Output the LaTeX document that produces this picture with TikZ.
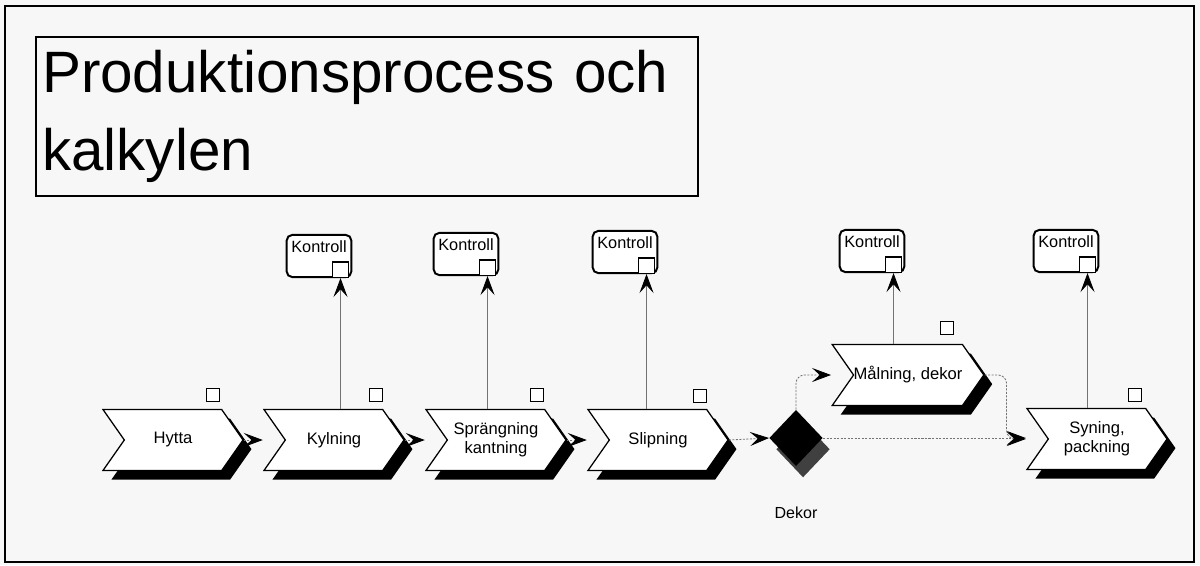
\documentclass[tikz,border=0pt]{standalone}
\usepackage{fontspec}
\setmainfont{Liberation Sans}
\usetikzlibrary{arrows.meta,positioning,shapes.symbols,shapes.geometric,shadows}

\begin{document}
\begin{tikzpicture}[x=0.025cm,y=-0.025cm,
        >={Stealth[length=13.5pt,width=10pt,inset=5.5pt,color=black]},
        chevron/.style={signal,signal to=east,signal from=west,signal pointer angle=110,
            draw=black,line width=0.9pt,fill=white,minimum width=99.6pt,minimum height=43.4pt,
            inner sep=0pt,align=center,font=\fontsize{11.8}{13.5}\selectfont,
            drop shadow={shadow xshift=6pt,shadow yshift=-6.5pt,fill=black,opacity=1}},
        beslut/.style={diamond,fill=black,minimum width=38pt,minimum height=40pt,inner sep=0pt,
            drop shadow={shadow xshift=5pt,shadow yshift=-8pt,fill=black!75,opacity=1}},
        kontroll/.style={draw,line width=1.4pt,rounded corners=4pt,fill=white,
            minimum width=46pt,minimum height=30pt,text depth=14pt,inner sep=2pt,
            font=\fontsize{11.6}{13}\selectfont},
        kdoc/.style={draw,line width=0.8pt,fill=white,minimum size=11pt,inner sep=0pt},
        doc/.style={draw,line width=0.6pt,fill=white,minimum size=9pt,inner sep=0pt},
        flow/.style={->,draw=black!55,line width=0.6pt,dash pattern=on 1.5pt off 1pt},
        ctrl/.style={->,draw=black!55,line width=0.6pt}]

        \fill[black!3] (0,0) rectangle (1200,565); % paper
        \useasboundingbox (0,0) rectangle (1200,565);
        \draw[line width=1.4pt] (5,6) rectangle (1194,562); % frame

        % title
        \node[draw,line width=1pt,minimum width=470.9pt,minimum height=113.1pt,
            text width=462pt,align=left,inner sep=4pt,font=\fontsize{41.5}{56}\selectfont]
            (titel) at (367,116.5) {Produktionsprocess och\\kalkylen};

        % process steps
        \node[chevron] (hytta) at (173,440) {Hytta};
        \node[chevron] (kyl) at (334,440) {Kylning};
        \node[chevron] (spr) at (496,440) {Sprängning\\kantning};
        \node[chevron] (sli) at (658,440) {Slipning};
        \node[beslut] (dia) at (796,438) {};
        \node[font=\fontsize{11.4}{13}\selectfont,below=25pt of dia] (dekor) {Dekor};
        \node[chevron] (mal) at (908,375) {Målning, dekor};
        \node[chevron] (syn) at (1097,439) {Syning,\\packning};

        % small documents
        \node[doc] (d1) at ([shift={(40,-45)}]hytta.center) {};
        \node[doc] (d2) at ([shift={(42,-45)}]kyl.center) {};
        \node[doc] (d3) at ([shift={(41,-45)}]spr.center) {};
        \node[doc] (d4) at ([shift={(42,-44)}]sli.center) {};
        \node[doc] (d5) at ([shift={(39,-47)}]mal.center) {};
        \node[doc] (d6) at ([shift={(38,-44)}]syn.center) {};

        % controls
        \node[kontroll] (k1) at (319,256) {Kontroll};
        \node[kontroll] (k2) at (466,254) {Kontroll};
        \node[kontroll] (k3) at (625,252) {Kontroll};
        \node[kontroll] (k4) at (872,251) {Kontroll};
        \node[kontroll] (k5) at (1066,251) {Kontroll};
        \foreach \k in {k1,k2,k3,k4,k5}
            \node[kdoc,anchor=south east] (\k s) at ([xshift=-2.5pt]\k.south east) {};

        % flow
        \draw[flow] (hytta.east) -- (kyl.north west |- kyl.center);
        \draw[flow] (kyl.east) -- (spr.north west |- spr.center);
        \draw[flow] (spr.east) -- (sli.north west |- sli.center);
        \draw[flow] (sli.east) -- (dia.west);
        \draw[flow] (dia.east) -- (dia.east -| syn.north west);
        \draw[flow,rounded corners=6pt] (dia.north) |- (mal.north west |- mal.center);
        \draw[flow,rounded corners=6pt] (mal.east) -- ++(22,0) |- (syn.north west |- syn.center);

        % to controls
        \draw[ctrl] (kyl.north -| k1s.south) -- (k1s.south);
        \draw[ctrl] (spr.north -| k2s.south) -- (k2s.south);
        \draw[ctrl] (sli.north -| k3s.south) -- (k3s.south);
        \draw[ctrl] (mal.north -| k4s.south) -- (k4s.south);
        \draw[ctrl] (syn.north -| k5s.south) -- (k5s.south);
\end{tikzpicture}
\end{document}
